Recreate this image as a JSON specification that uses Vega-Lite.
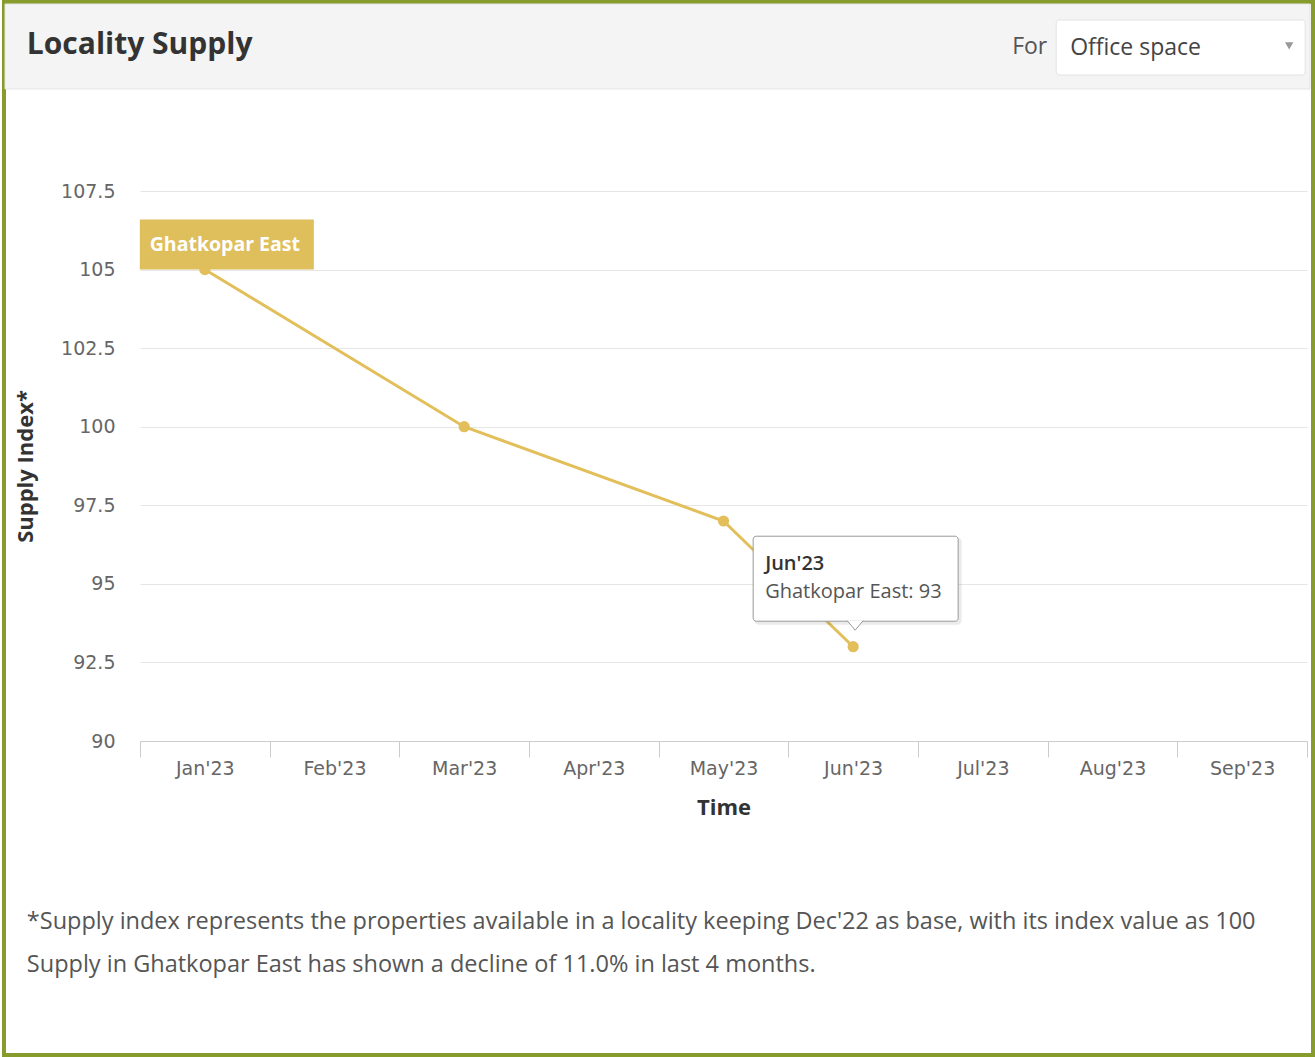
{
  "$schema": "https://vega.github.io/schema/vega-lite/v6.json",
  "width": 1167,
  "height": 550,
  "autosize": {"type": "none"},
  "padding": {"left": 140, "top": 191, "right": 8, "bottom": 316},
  "background": "#ffffff",
  "datasets": {
    "supply": [
      {"month": "Jan'23", "value": 105, "series": "Ghatkopar East"},
      {"month": "Mar'23", "value": 100, "series": "Ghatkopar East"},
      {"month": "May'23", "value": 97, "series": "Ghatkopar East"},
      {"month": "Jun'23", "value": 93, "series": "Ghatkopar East"}
    ]
  },
  "config": {
    "font": "Open Sans",
    "view": {"stroke": null},
    "axisX": {
      "domainColor": "#cccccc",
      "tickColor": "#cccccc",
      "tickSize": 16,
      "tickBand": "extent",
      "labelFont": "DejaVu Sans",
      "labelFontSize": 19,
      "labelColor": "#666666",
      "labelPadding": 2,
      "labelAngle": 0,
      "titleFont": "Open Sans",
      "titleFontSize": 22,
      "titleFontWeight": "bold",
      "titleColor": "#333333",
      "titlePadding": 19,
      "grid": false
    },
    "axisY": {
      "domain": false,
      "ticks": false,
      "gridColor": "#e6e6e6",
      "labelFont": "DejaVu Sans",
      "labelFontSize": 19,
      "labelColor": "#666666",
      "labelPadding": 25,
      "titleFont": "Open Sans",
      "titleFontSize": 22,
      "titleFontWeight": "bold",
      "titleColor": "#333333",
      "titlePadding": 23
    }
  },
  "layer": [
    {
      "data": {"name": "supply"},
      "mark": {"type": "line", "color": "#e2bf5a", "strokeWidth": 3},
      "encoding": {
        "x": {
          "field": "month", "type": "ordinal", "title": "Time",
          "scale": {"type": "band", "domain": ["Jan'23", "Feb'23", "Mar'23", "Apr'23", "May'23", "Jun'23", "Jul'23", "Aug'23", "Sep'23"], "paddingInner": 0, "paddingOuter": 0}
        },
        "y": {
          "field": "value", "type": "quantitative", "title": "Supply Index*",
          "scale": {"domain": [90, 107.5], "nice": false, "zero": false},
          "axis": {"values": [90, 92.5, 95, 97.5, 100, 102.5, 105, 107.5], "format": ".4~g"}
        },
        "order": {"value": null}
      }
    },
    {
      "data": {"name": "supply"},
      "mark": {"type": "point", "filled": true, "color": "#e2bf5a", "size": 125, "opacity": 1},
      "encoding": {
        "x": {"field": "month", "type": "ordinal", "title": "Time"},
        "y": {"field": "value", "type": "quantitative", "title": "Supply Index*"}
      }
    },
    {
      "data": {"values": [{"part": "border"}]},
      "mark": {"type": "rect", "width": 1309, "height": 1053, "xOffset": -65, "fill": null, "stroke": "#879c2c", "strokeWidth": 4},
      "encoding": {
        "x": {"datum": "May'23", "type": "ordinal", "title": "Time"},
        "y": {"datum": 96.76, "type": "quantitative", "title": "Supply Index*"}
      }
    },
    {
      "data": {"values": [{"part": "header"}]},
      "mark": {"type": "rect", "width": 1305, "height": 85, "xOffset": -66, "fill": "#f4f4f4", "stroke": "#e4e4e4", "strokeWidth": 1},
      "encoding": {
        "x": {"datum": "May'23", "type": "ordinal", "title": "Time"},
        "y": {"datum": 112.098, "type": "quantitative", "title": "Supply Index*"}
      }
    },
    {
      "data": {"values": [{"part": "dropdown"}]},
      "mark": {"type": "rect", "width": 249, "height": 55, "xOffset": -61.5, "fill": "#ffffff", "stroke": "#e3e3e3", "strokeWidth": 1, "cornerRadius": 3},
      "encoding": {
        "x": {"datum": "Sep'23", "type": "ordinal", "title": "Time"},
        "y": {"datum": 112.066, "type": "quantitative", "title": "Supply Index*"}
      }
    },
    {
      "data": {"values": [{"t": "Locality Supply"}]},
      "mark": {"type": "text", "align": "left", "baseline": "middle", "dx": -178, "fontSize": 30, "fontWeight": "bold", "color": "#333333"},
      "encoding": {
        "x": {"datum": "Jan'23", "type": "ordinal", "title": "Time"},
        "y": {"datum": 112.145, "type": "quantitative", "title": "Supply Index*"},
        "text": {"field": "t"}
      }
    },
    {
      "data": {"values": [{"t": "For"}]},
      "mark": {"type": "text", "align": "left", "baseline": "middle", "dx": -230, "fontSize": 23, "color": "#555555"},
      "encoding": {
        "x": {"datum": "Sep'23", "type": "ordinal", "title": "Time"},
        "y": {"datum": 112.08, "type": "quantitative", "title": "Supply Index*"},
        "text": {"field": "t"}
      }
    },
    {
      "data": {"values": [{"t": "Office space"}]},
      "mark": {"type": "text", "align": "left", "baseline": "middle", "dx": -172, "fontSize": 23, "color": "#444444"},
      "encoding": {
        "x": {"datum": "Sep'23", "type": "ordinal", "title": "Time"},
        "y": {"datum": 112.05, "type": "quantitative", "title": "Supply Index*"},
        "text": {"field": "t"}
      }
    },
    {
      "data": {"values": [{"part": "caret"}]},
      "mark": {"type": "point", "shape": "triangle-down", "filled": true, "color": "#999999", "size": 70, "xOffset": 47, "opacity": 1},
      "encoding": {
        "x": {"datum": "Sep'23", "type": "ordinal", "title": "Time"},
        "y": {"datum": 112.12, "type": "quantitative", "title": "Supply Index*"}
      }
    },
    {
      "data": {"name": "supply"},
      "transform": [{"filter": {"field": "month", "equal": "Jan'23"}}],
      "mark": {"type": "rect", "width": 174, "height": 50, "xOffset": 22, "yOffset": -25, "fill": "#dfbe5c"},
      "encoding": {
        "x": {"field": "month", "type": "ordinal", "title": "Time"},
        "y": {"field": "value", "type": "quantitative", "title": "Supply Index*"}
      }
    },
    {
      "data": {"name": "supply"},
      "transform": [{"filter": {"field": "month", "equal": "Jan'23"}}],
      "mark": {"type": "text", "align": "center", "baseline": "middle", "dx": 20, "dy": -25, "fontSize": 19.5, "fontWeight": "bold", "color": "#ffffff"},
      "encoding": {
        "x": {"field": "month", "type": "ordinal", "title": "Time"},
        "y": {"field": "value", "type": "quantitative", "title": "Supply Index*"},
        "text": {"field": "series"}
      }
    },
    {
      "data": {"name": "supply"},
      "transform": [{"filter": {"field": "month", "equal": "Jun'23"}}],
      "mark": {"type": "rect", "width": 207, "height": 87, "xOffset": 5, "yOffset": -65.5, "fill": "#000000", "opacity": 0.08, "cornerRadius": 4},
      "encoding": {
        "x": {"field": "month", "type": "ordinal", "title": "Time"},
        "y": {"field": "value", "type": "quantitative", "title": "Supply Index*"}
      }
    },
    {
      "data": {"name": "supply"},
      "transform": [{"filter": {"field": "month", "equal": "Jun'23"}}],
      "mark": {"type": "rect", "width": 205, "height": 85, "xOffset": 2.5, "yOffset": -68, "fill": "#ffffff", "stroke": "#9a9a9a", "strokeWidth": 1, "cornerRadius": 3},
      "encoding": {
        "x": {"field": "month", "type": "ordinal", "title": "Time"},
        "y": {"field": "value", "type": "quantitative", "title": "Supply Index*"}
      }
    },
    {
      "data": {"name": "supply"},
      "transform": [{"filter": {"field": "month", "equal": "Jun'23"}}],
      "mark": {"type": "point", "shape": "M-1,-0.55L0,0.65L1,-0.55", "size": 256, "fill": "#ffffff", "stroke": "#9a9a9a", "strokeWidth": 1, "opacity": 1, "fillOpacity": 1, "xOffset": 2, "yOffset": -21.7},
      "encoding": {
        "x": {"field": "month", "type": "ordinal", "title": "Time"},
        "y": {"field": "value", "type": "quantitative", "title": "Supply Index*"}
      }
    },
    {
      "data": {"name": "supply"},
      "transform": [{"filter": {"field": "month", "equal": "Jun'23"}}],
      "mark": {"type": "text", "align": "left", "baseline": "middle", "dx": -88, "dy": -83, "fontSize": 20, "fontWeight": 600, "color": "#333333"},
      "encoding": {
        "x": {"field": "month", "type": "ordinal", "title": "Time"},
        "y": {"field": "value", "type": "quantitative", "title": "Supply Index*"},
        "text": {"field": "month"}
      }
    },
    {
      "data": {"name": "supply"},
      "transform": [{"filter": {"field": "month", "equal": "Jun'23"}}],
      "mark": {"type": "text", "align": "left", "baseline": "middle", "dx": -88, "dy": -55, "fontSize": 20, "color": "#555555", "text": "Ghatkopar East: 93"},
      "encoding": {
        "x": {"field": "month", "type": "ordinal", "title": "Time"},
        "y": {"field": "value", "type": "quantitative", "title": "Supply Index*"}
      }
    },
    {
      "data": {"values": [{"t": "*Supply index represents the properties available in a locality keeping Dec'22 as base, with its index value as 100"}]},
      "mark": {"type": "text", "align": "left", "baseline": "middle", "dx": -178, "fontSize": 23.5, "color": "#555555"},
      "encoding": {
        "x": {"datum": "Jan'23", "type": "ordinal", "title": "Time"},
        "y": {"datum": 84.24, "type": "quantitative", "title": "Supply Index*"},
        "text": {"field": "t"}
      }
    },
    {
      "data": {"values": [{"t": "Supply in Ghatkopar East has shown a decline of 11.0% in last 4 months."}]},
      "mark": {"type": "text", "align": "left", "baseline": "middle", "dx": -178, "fontSize": 23.5, "color": "#555555"},
      "encoding": {
        "x": {"datum": "Jan'23", "type": "ordinal", "title": "Time"},
        "y": {"datum": 82.87, "type": "quantitative", "title": "Supply Index*"},
        "text": {"field": "t"}
      }
    }
  ]
}
